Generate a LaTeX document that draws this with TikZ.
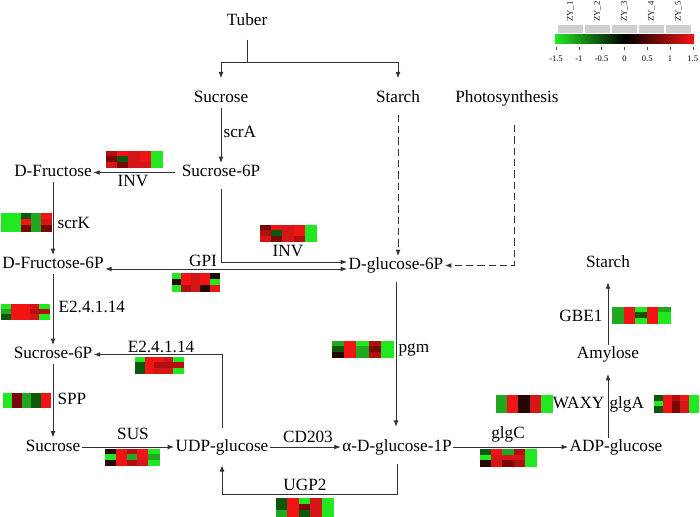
\documentclass[tikz,border=0pt]{standalone}
\usepackage{fontspec}
\setmainfont{Liberation Serif}
\usetikzlibrary{arrows.meta,calc}

\definecolor{hG}{RGB}{34,232,34}
\definecolor{hg}{RGB}{32,168,32}
\definecolor{hdg}{RGB}{12,88,12}
\definecolor{hK}{RGB}{36,8,4}
\definecolor{hdr}{RGB}{122,6,6}
\definecolor{hmr}{RGB}{178,16,16}
\definecolor{hr}{RGB}{212,22,22}
\definecolor{hR}{RGB}{242,20,20}
\definecolor{legendgray}{RGB}{208,208,208}

% heat strip: left, top, right, bottom, 15 colours (3 rows of 5)
\newcommand{\heatmap}[5]{%
  \pgfmathsetmacro{\hw}{(#3-#1)/5}%
  \pgfmathsetmacro{\hh}{(#4-#2)/3}%
  \foreach \c [count=\i from 0] in {#5} {%
    \pgfmathtruncatemacro{\hcol}{mod(\i,5)}%
    \pgfmathtruncatemacro{\hrow}{div(\i,5)}%
    \fill[fill=\c,draw=\c,line width=0.1pt] ({#1+\hcol*\hw},{#2+\hrow*\hh}) rectangle ++(\hw,\hh);
  }%
}

\begin{document}
\begin{tikzpicture}[x=0.75pt,y=-0.75pt,
  >={Latex[length=4.8pt,width=3.6pt]},
  met/.style={font=\fontsize{12.9}{15}\selectfont,inner sep=1pt,text height=9pt,text depth=2.8pt},
  conn/.style={draw=black!80,line width=0.6pt},
  dashconn/.style={conn,dash pattern=on 5.5pt off 3pt},
  zy/.style={font=\fontsize{6.6}{7}\selectfont,inner sep=0pt,text=black!90},
  tick/.style={font=\fontsize{6.4}{7}\selectfont,inner sep=0pt}]
\useasboundingbox (0,0) rectangle (700,517);

\node[met] (tuber) at (247,21.5) {Tuber};
\node[met] (sucrose) at (221,98.5) {Sucrose};
\node[met] (starch) at (398,98.5) {Starch};
\node[met] (photo) at (507,98.5) {Photosynthesis};
\node[met] (sucsixp) at (221,172.5) {Sucrose-6P};
\node[met] (dfruc) at (53,172.5) {D-Fructose};
\node[met] (dfrucsixp) at (53,264.5) {D-Fructose-6P};
\node[met] (glcsixp) at (396,265.5) {D-glucose-6P};
\node[met] (sucsixpb) at (53,354.5) {Sucrose-6P};
\node[met] (sucroseb) at (53,447) {Sucrose};
\node[met] (udpglc) at (222,447) {UDP-glucose};
\node[met] (glconep) at (397,447) {α-D-glucose-1P};
\node[met] (adpglc) at (616,447) {ADP-glucose};
\node[met] (amylose) at (608,354.5) {Amylose};
\node[met] (starchb) at (608,263.5) {Starch};

\coordinate (split) at (247,62);
\draw[conn,shorten <=6.5pt] (tuber) -- (split);
\draw[conn,->,shorten >=8pt] (split) -| (sucrose);
\draw[conn,->,shorten >=8pt] (split) -| (starch);

\draw[conn,->] (sucrose) -- (sucsixp);
\node[met,anchor=west] (scra) at (222,133.5) {scrA};

\draw[conn,->,shorten <=4pt] (sucsixp) -- (dfruc);
\node[met] (inva) at (133,182.5) {INV};
\heatmap{106}{151}{162}{167}{hmr,hR,hr,hR,hG, hdr,hdg,hr,hR,hG, hr,hdr,hr,hr,hG}

\draw[conn,->] (dfruc) -- (dfrucsixp);
\node[met,anchor=west] (scrk) at (56,224.5) {scrK};
\heatmap{1}{213}{51}{231}{hG,hG,hdg,hg,hR, hG,hG,hR,hg,hr, hG,hG,hdr,hg,hdr}

\coordinate (invend) at ($(glcsixp.west)+(0,-3.5)$);
\coordinate (gpiend) at ($(glcsixp.west)+(0,3.5)$);
\draw[conn,->,shorten <=5pt] (sucsixp.south) |- (invend);
\node[met] (invb) at (288,252.5) {INV};
\heatmap{260}{225}{316}{241}{hdr,hR,hr,hR,hG, hmr,hdg,hr,hR,hG, hr,hdr,hr,hmr,hG}

\draw[conn,<->] (dfrucsixp.east |- gpiend) -- (gpiend);
\node[met] (gpi) at (203,262.5) {GPI};
\heatmap{172}{273}{219}{291}{hG,hR,hr,hR,hK, hK,hR,hr,hR,hG, hG,hmr,hr,hK,hR}

\draw[dashconn,->,shorten <=5pt] (starch.south) -- (starch.south |- glcsixp.north);
\draw[dashconn,->] ($(photo.south)+(7,17)$) |- (glcsixp.east);

\draw[conn,->,shorten <=5pt,shorten >=8pt] (glcsixp.south) -- (glcsixp.south |- glconep.north);
\node[met,anchor=west] (pgm) at (397,348) {pgm};
\heatmap{332}{341}{393}{357}{hg,hR,hG,hmr,hG, hdg,hR,hg,hdr,hG, hK,hR,hg,hmr,hG}

\draw[conn,->] (dfrucsixp) -- (sucsixpb);
\node[met,anchor=west] (eca) at (57,308.5) {E2.4.1.14};
\heatmap{1}{304}{49}{319}{hG,hR,hR,hr,hG, hg,hR,hR,hmr,hmr, hdg,hR,hR,hr,hG}

\draw[conn,->,shorten <=7.5pt] (udpglc.north) |- (sucsixpb);
\node[met] (ecb) at (161,348.5) {E2.4.1.14};
\heatmap{135}{357}{183}{373}{hG,hR,hR,hr,hG, hdg,hR,hmr,hmr,hmr, hdg,hR,hr,hr,hG}

\draw[conn,->] (sucsixpb) -- (sucroseb);
\node[met,anchor=west] (spp) at (56,400.5) {SPP};
\heatmap{3}{393}{50}{407}{hG,hdr,hg,hdg,hR, hG,hdr,hg,hdg,hR, hG,hdr,hg,hdg,hR}

\draw[conn,->] (sucroseb) -- (udpglc);
\node[met] (sus) at (133,435.5) {SUS};
\heatmap{105}{449}{159}{465}{hK,hR,hmr,hR,hG, hG,hR,hg,hR,hg, hK,hR,hmr,hr,hG}

\draw[conn,->] (udpglc) -- (glconep);
\node[met] (cd) at (308,438.5) {CD203};

\coordinate (ugpturn) at (397,494);
\draw[conn,->,shorten <=6pt,shorten >=6.5pt] (glconep.south) -- (ugpturn) -| (udpglc.south);
\node[met] (ugp) at (305,486.5) {UGP2};
\heatmap{276}{498}{333}{516}{hdg,hR,hG,hr,hG, hdg,hR,hdr,hr,hG, hg,hR,hdg,hr,hG}

\draw[conn,->] (glconep) -- (adpglc);
\node[met] (glgc) at (508,434) {glgC};
\heatmap{480}{449}{536}{466}{hdg,hR,hg,hmr,hG, hG,hr,hr,hr,hG, hK,hr,hdr,hmr,hG}

\draw[conn,->,shorten >=7.5pt] (amylose |- adpglc.north) -- (amylose);
\node[met,anchor=east] (waxy) at (606,404.5) {WAXY};
\node[met,anchor=west] (glga) at (608,404.5) {glgA};
\heatmap{496}{395}{552}{412}{hg,hR,hK,hr,hG, hg,hR,hK,hr,hG, hg,hR,hK,hr,hG}
\heatmap{654}{395}{698}{412}{hdg,hR,hmr,hR,hG, hG,hR,hdr,hr,hG, hdg,hR,hdr,hr,hG}

\draw[conn,->,shorten >=7pt] (amylose) -- (starchb);
\node[met,anchor=east] (gbe) at (604,317.5) {GBE1};
\heatmap{612}{307}{670}{323}{hg,hR,hG,hR,hg, hg,hR,hdg,hR,hG, hg,hR,hG,hR,hG}

% colour key
\foreach \k in {1,...,5} {
  \fill[legendgray] ({558+(\k-1)*27},25) rectangle ++(25,8);
  \node[zy,rotate=90,anchor=west] (zy\k) at ({570.5+(\k-1)*27},22) {ZY\_\k};
}
\shade[left color=hG,right color=hR,middle color=black] (555,35) rectangle (694,44);
\foreach \v [count=\i from 0] in {-1.5,-1,-0.5,0,0.5,1,1.5} {
  \draw[black!70,line width=0.4pt] ({556+\i*22.8},47) -- ++(0,3);
  \node[tick] (t\i) at ({556+\i*22.8},59) {\v};
}
\end{tikzpicture}
\end{document}
